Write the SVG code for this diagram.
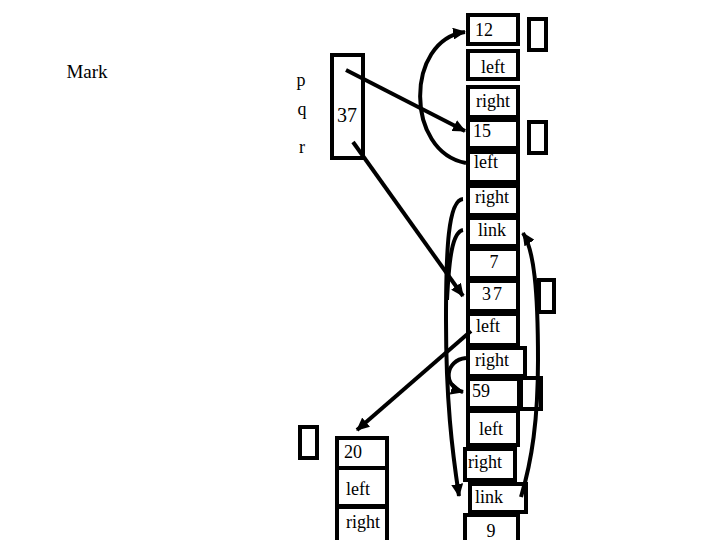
<svg xmlns="http://www.w3.org/2000/svg" width="720" height="540" viewBox="0 0 720 540">
<defs>
<style>
.b{fill:#fff;stroke:#000;stroke-width:4}
.t{font-family:"Liberation Serif","Times New Roman",serif;font-size:18px;fill:#000;text-anchor:middle}
.c{fill:none;stroke:#000;stroke-width:4}
</style>
<marker id="ah" markerWidth="14" markerHeight="12" refX="12" refY="6" orient="auto" markerUnits="userSpaceOnUse">
<path d="M0,0 L13,6 L0,12 Z" fill="#000"/>
</marker>
</defs>
<rect width="720" height="540" fill="#fff"/>
<g id="label-mark"><text class="t" x="87" y="78" style="font-size:19px">Mark</text></g>
<g id="vars">
<rect class="b" x="332" y="55" width="31" height="103"/>
<text class="t" x="301" y="86">p</text>
<text class="t" x="302" y="115">q</text>
<text class="t" x="302" y="153">r</text>
<text class="t" x="347" y="122" style="font-size:20px">37</text>
</g>
<g id="node12">
<rect class="b" x="468" y="15" width="50" height="29"/>
<text class="t" x="484" y="36">12</text>
<rect class="b" x="468" y="51" width="50" height="28"/>
<text class="t" x="493" y="73">left</text>
<rect class="b" x="468" y="87" width="50" height="30"/>
<text class="t" x="493" y="107">right</text>
<rect class="b" x="529" y="19" width="17" height="31"/>
</g>
<g id="node15">
<rect class="b" x="468" y="120" width="50" height="28"/>
<text class="t" x="482" y="137">15</text>
<rect class="b" x="468" y="152" width="50" height="30"/>
<text class="t" x="486" y="168">left</text>
<rect class="b" x="468" y="186" width="50" height="29"/>
<text class="t" x="492" y="203">right</text>
<rect class="b" x="468" y="218" width="50" height="28"/>
<text class="t" x="492" y="236">link</text>
<rect class="b" x="529" y="122" width="17" height="31"/>
</g>
<g id="node7">
<rect class="b" x="468" y="249" width="50" height="29"/>
<text class="t" x="494" y="268">7</text>
</g>
<g id="node37">
<rect class="b" x="468" y="281" width="50" height="30"/>
<text class="t" x="493" y="300" style="letter-spacing:2px">37</text>
<rect class="b" x="468" y="314" width="50" height="31"/>
<text class="t" x="488" y="332">left</text>
<rect class="b" x="468" y="348" width="57" height="28"/>
<text class="t" x="492" y="366">right</text>
<rect class="b" x="539" y="280" width="15" height="32"/>
</g>
<g id="node59">
<rect class="b" x="468" y="379" width="51" height="29"/>
<text class="t" x="481" y="397">59</text>
<rect class="b" x="521" y="378" width="20" height="31"/>
<rect class="b" x="468" y="411" width="50" height="34"/>
<text class="t" x="491" y="435">left</text>
<rect class="b" x="465" y="449" width="50" height="31"/>
<text class="t" x="485" y="468">right</text>
<rect class="b" x="470" y="484" width="56" height="28"/>
<text class="t" x="489" y="503">link</text>
</g>
<g id="node9">
<rect class="b" x="465" y="515" width="53" height="30"/>
<text class="t" x="491" y="537">9</text>
</g>
<g id="node20">
<rect class="b" x="300" y="427" width="17" height="31"/>
<rect class="b" x="337" y="438" width="50" height="30"/>
<text class="t" x="353" y="458">20</text>
<rect class="b" x="337" y="468" width="50" height="38"/>
<text class="t" x="358" y="495">left</text>
<rect class="b" x="337" y="507" width="50" height="38"/>
<text class="t" x="363" y="528">right</text>
</g>
<g id="connectors">
<path class="c" d="M346,70 L465,131" marker-end="url(#ah)"/>
<path class="c" d="M353,142 L463,296" marker-end="url(#ah)"/>
<path class="c" d="M466,163 C405,152 405,40 465,32" marker-end="url(#ah)"/>
<path class="c" d="M471,331 L357,430" marker-end="url(#ah)"/>
<path class="c" d="M466,358 C445,360 442,386 463,392" marker-end="url(#ah)"/>
<path class="c" d="M463,199 C448,200 446,250 446,320 C446,400 452,450 459,496" marker-end="url(#ah)"/>
<path class="c" d="M463,230 C452,232 449,260 447,300"/>
<path class="c" d="M521,497 C532,460 538,420 538,360 C538,290 534,250 523,233" marker-end="url(#ah)"/>
</g>
</svg>
